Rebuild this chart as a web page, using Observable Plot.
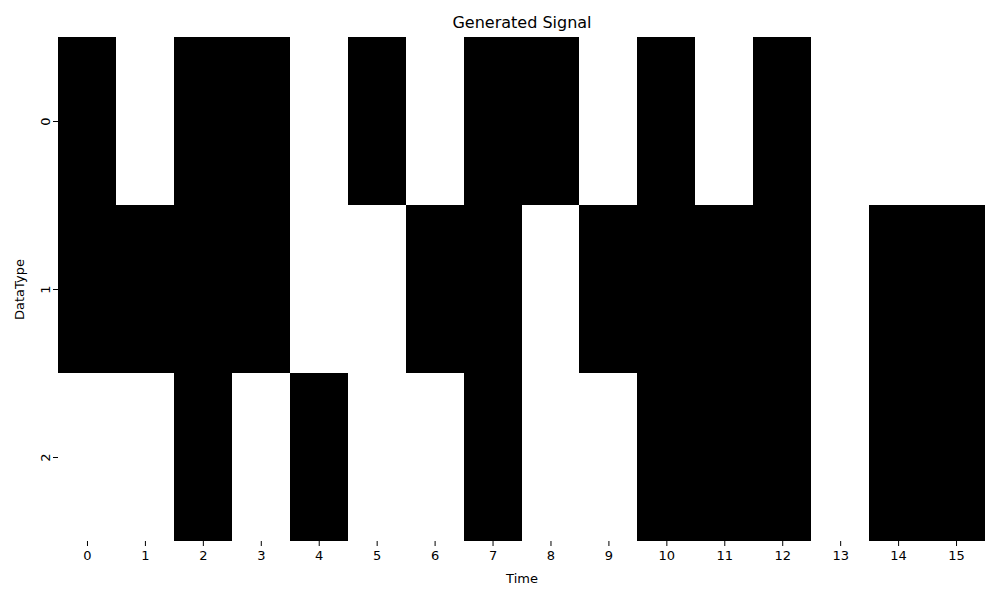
<!DOCTYPE html>
<html>
<head>
<meta charset="utf-8">
<script src="https://cdn.jsdelivr.net/npm/d3@7"></script>
<script src="https://cdn.jsdelivr.net/npm/@observablehq/plot@0.6"></script>
<style>
  body { margin: 0; background: white; }
  svg { font-family: "DejaVu Sans", sans-serif; }
</style>
</head>
<body>
<div id="chart"></div>
<script>
const times = [0,1,2,3,4,5,6,7,8,9,10,11,12,13,14,15];
const dataTypes = [0,1,2];
const row0 = [1,0,1,1,0,1,0,1,1,0,1,0,1,0,0,0];
const row1 = [1,1,1,1,0,0,1,1,0,1,1,1,1,0,1,1];
const row2 = [0,0,1,0,1,0,0,1,0,0,1,1,1,0,1,1];
const rows = [row0, row1, row2];
const title = "Generated Signal";

const cells = [];
dataTypes.forEach((d, i) => times.forEach((t, j) => cells.push({t, d, v: rows[i][j]})));

const chart = Plot.plot({
  width: 1000,
  height: 600,
  marginLeft: 58,
  marginRight: 15,
  marginTop: 37,
  marginBottom: 59,
  style: {fontFamily: "DejaVu Sans, sans-serif", fontSize: "13px", background: "white", color: "black"},
  x: {type: "band", domain: times, padding: 0, round: false},
  y: {type: "band", domain: dataTypes, padding: 0, round: false},
  marks: [
    Plot.cell(cells, {x: "t", y: "d", fill: d => d.v ? "black" : "white", inset: 0, shapeRendering: "crispEdges"}),
    Plot.axisX({tickSize: 5, tickPadding: 4, fontSize: 13, label: "Time", labelAnchor: "center", labelArrow: "none", labelOffset: 41}),
    Plot.axisY({tickSize: 5, tickPadding: 4, fontSize: 13, tickRotate: -90, label: "DataType", labelAnchor: "center", labelArrow: "none", labelOffset: 44}),
    Plot.text([title], {frameAnchor: "top", dy: -15, fontSize: 16, lineAnchor: "middle", text: d => d})
  ]
});
document.getElementById("chart").appendChild(chart);
</script>
</body>
</html>
